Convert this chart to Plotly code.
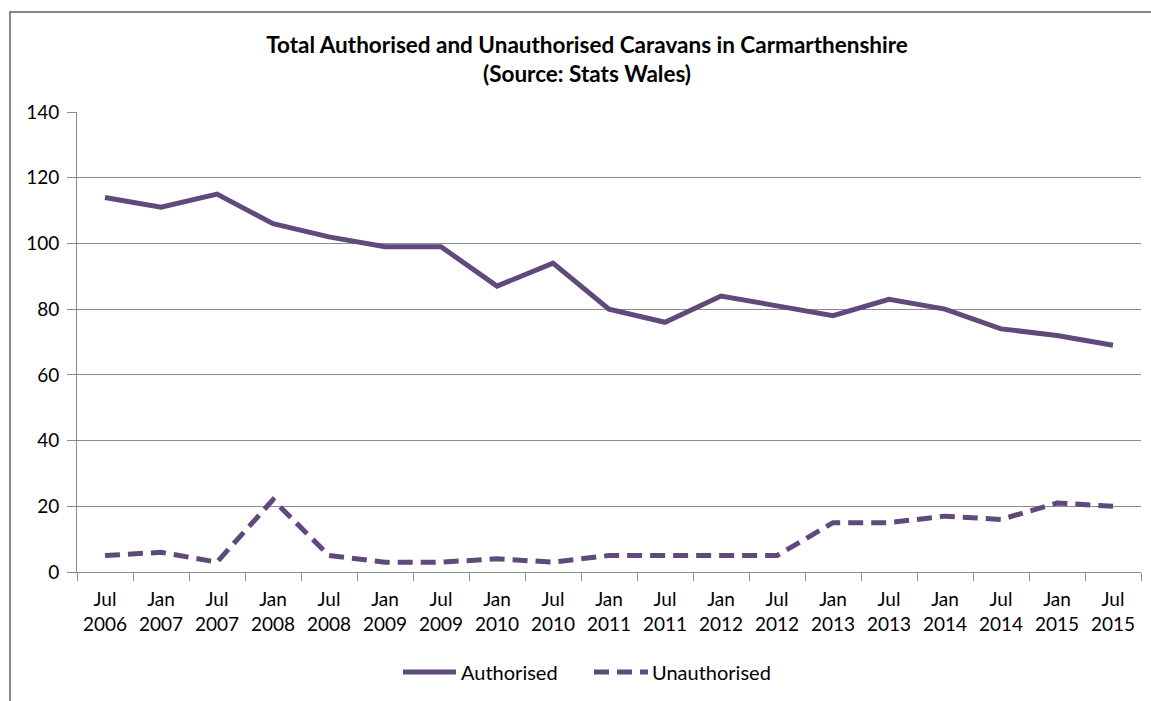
import plotly.graph_objects as go

# Survey periods (twice-yearly counts)
months = ["Jul", "Jan", "Jul", "Jan", "Jul", "Jan", "Jul", "Jan", "Jul", "Jan",
          "Jul", "Jan", "Jul", "Jan", "Jul", "Jan", "Jul", "Jan", "Jul"]
years = ["2006", "2007", "2007", "2008", "2008", "2009", "2009", "2010", "2010", "2011",
         "2011", "2012", "2012", "2013", "2013", "2014", "2014", "2015", "2015"]

authorised = [114, 111, 115, 106, 102, 99, 99, 87, 94, 80,
              76, 84, 81, 78, 83, 80, 74, 72, 69]
unauthorised = [5, 6, 3, 22, 5, 3, 3, 4, 3, 5,
                5, 5, 5, 15, 15, 17, 16, 21, 20]

periods = [f"{m} {y}" for m, y in zip(months, years)]
tick_text = [f"{m}<br>{y}" for m, y in zip(months, years)]

PURPLE = "#604A7B"
GRID = "#8C8C8C"
FONT = "Lato"

W, H = 1151, 701
L, R, T, B = 77, W - 1141, 112, H - 572
PW, PH = W - L - R, H - T - B


def px(x):
    return (x - L) / PW


def py(y):
    return (H - B - y) / PH


fig = go.Figure()
fig.add_trace(go.Scatter(
    x=periods, y=authorised, mode="lines", name="Authorised",
    line=dict(color=PURPLE, width=5), showlegend=False,
))
fig.add_trace(go.Scatter(
    x=periods, y=unauthorised, mode="lines", name="Unauthorised",
    line=dict(color=PURPLE, width=5, dash="15px,8px"), showlegend=False,
))

shapes = [
    # outer chart frame (left and top edges)
    dict(type="path", xref="paper", yref="paper",
         path=f"M {px(10)} {py(H + 5)} L {px(10)} {py(12)} L {px(W + 5)} {py(12)}",
         line=dict(color="#868686", width=2)),
    # legend samples
    dict(type="line", xref="paper", yref="paper",
         x0=px(403), x1=px(456), y0=py(672), y1=py(672),
         line=dict(color=PURPLE, width=5)),
    dict(type="line", xref="paper", yref="paper",
         x0=px(594), x1=px(648), y0=py(672), y1=py(672),
         line=dict(color=PURPLE, width=5, dash="15px,8px")),
]

annotations = [
    dict(text="Authorised", xref="paper", yref="paper", x=px(459), y=py(672),
         xanchor="left", yanchor="middle", showarrow=False,
         font=dict(family=FONT, size=20, color="#000000")),
    dict(text="Unauthorised", xref="paper", yref="paper", x=px(650), y=py(672),
         xanchor="left", yanchor="middle", showarrow=False,
         font=dict(family=FONT, size=20, color="#000000")),
]

fig.update_layout(
    width=W, height=H,
    margin=dict(l=L, r=R, t=T, b=B, pad=0),
    paper_bgcolor="white", plot_bgcolor="white",
    title=dict(
        text="<b>Total Authorised and Unauthorised Caravans in Carmarthenshire<br>(Source: Stats Wales)</b>",
        x=0.51, xanchor="center", y=1 - 53 / H, yanchor="middle",
        font=dict(family=FONT, size=22.5, color="#000000"),
    ),
    font=dict(family=FONT, size=19, color="#000000"),
    shapes=shapes,
    annotations=annotations,
    xaxis=dict(
        type="category", tickmode="array", tickvals=periods, ticktext=tick_text,
        range=[-0.5, len(periods) - 0.5],
        tickson="boundaries", ticks="outside", ticklen=8, tickcolor=GRID,
        showline=True, linecolor=GRID, linewidth=1,
        showgrid=False, zeroline=False, fixedrange=True,
        ticklabelstandoff=10,
        tickfont=dict(family=FONT, size=19, color="#000000"),
    ),
    yaxis=dict(
        range=[0, 140], dtick=20, tick0=0,
        ticks="outside", ticklen=9, tickcolor=GRID,
        showline=True, linecolor=GRID, linewidth=1,
        showgrid=True, gridcolor=GRID, gridwidth=1,
        zeroline=False, fixedrange=True,
        ticklabelstandoff=4,
        tickfont=dict(family=FONT, size=19, color="#000000"),
    ),
)

fig.write_html("out.html")
